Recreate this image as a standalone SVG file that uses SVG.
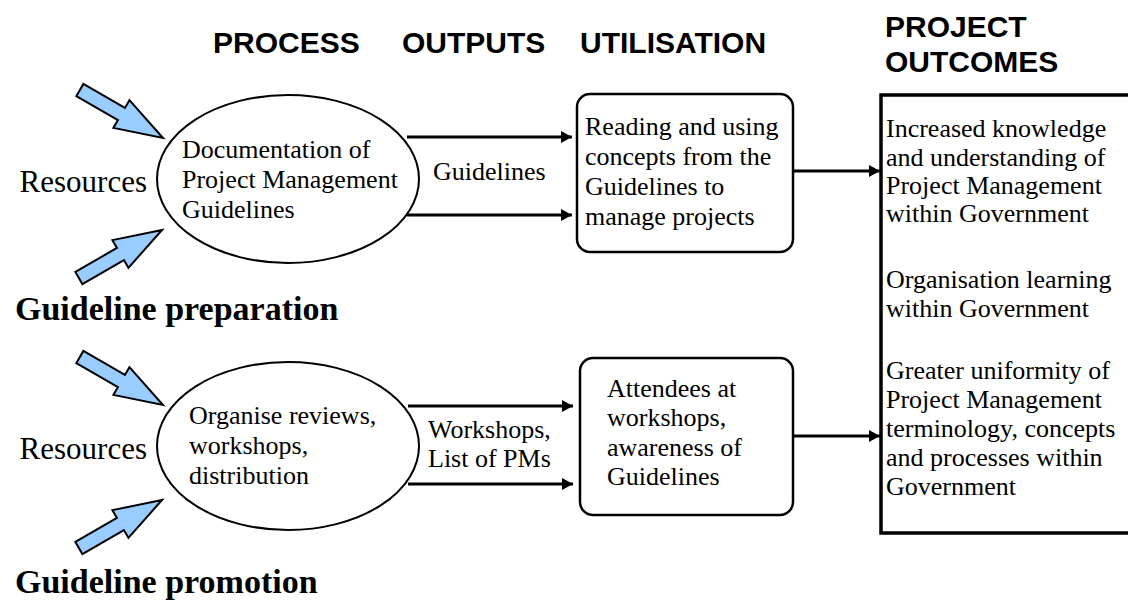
<svg xmlns="http://www.w3.org/2000/svg" width="1128" height="610" viewBox="0 0 1128 610">
  <defs>
    <style>
      .head { font-family: "Liberation Sans", Arial, sans-serif; font-weight: bold; font-size: 30px; fill: #000; }
      .txt { font-family: "Liberation Serif", "Times New Roman", serif; font-size: 26px; fill: #000; }
      .res { font-family: "Liberation Serif", "Times New Roman", serif; font-size: 31px; fill: #000; }
      .title { font-family: "Liberation Serif", "Times New Roman", serif; font-weight: bold; font-size: 34px; fill: #000; }
      .proc { fill: #fff; stroke: #000; stroke-width: 2; }
      .util { fill: #fff; stroke: #000; stroke-width: 2.5; }
      .outcome { fill: #fff; stroke: #000; stroke-width: 3.5; }
      .input { fill: #99ccff; stroke: #000; stroke-width: 2; stroke-linejoin: miter; }
      .flow { fill: none; stroke: #000; stroke-width: 3; marker-end: url(#tip); }
    </style>
    <marker id="tip" markerUnits="userSpaceOnUse" markerWidth="12" markerHeight="14" refX="11" refY="6" orient="auto">
      <path d="M0,0 L11,6 L0,12 Z" fill="#000"/>
    </marker>
    <!-- block arrow pointing along +x, tip at origin -->
    <polygon id="blockArrow" points="0,0 -48,-16 -48,-7 -96,-7 -96,7 -48,7 -48,16"/>
  </defs>

  <rect width="1128" height="610" fill="#fff"/>

  <!-- column headings -->
  <g id="headings">
    <text class="head" x="213" y="53">PROCESS</text>
    <text class="head" x="402" y="53">OUTPUTS</text>
    <text class="head" x="580" y="53">UTILISATION</text>
    <text class="head" x="885" y="37">PROJECT</text>
    <text class="head" x="885" y="72">OUTCOMES</text>
  </g>

  <!-- connectors -->
  <g id="connectors">
    <line class="flow" x1="407" y1="137" x2="572" y2="137"/>
    <line class="flow" x1="407" y1="215" x2="572" y2="215"/>
    <line class="flow" x1="408" y1="406" x2="573" y2="406"/>
    <line class="flow" x1="408" y1="484" x2="573" y2="484"/>
    <line class="flow" x1="793" y1="171" x2="880" y2="171"/>
    <line class="flow" x1="793" y1="436" x2="880" y2="436"/>
  </g>

  <!-- resource inputs, preparation row -->
  <g id="inputs-preparation">
    <use href="#blockArrow" class="input" transform="translate(163,138) rotate(30)"/>
    <use href="#blockArrow" class="input" transform="translate(162,230) rotate(-30)"/>
    <text class="res" x="147" y="192" text-anchor="end">Resources</text>
  </g>

  <g id="process-preparation">
    <ellipse class="proc" cx="288" cy="179" rx="131" ry="84"/>
    <text class="txt" x="182" y="158">Documentation of</text>
    <text class="txt" x="182" y="188">Project Management</text>
    <text class="txt" x="182" y="218">Guidelines</text>
  </g>

  <g id="output-preparation">
    <text class="txt" x="433" y="180">Guidelines</text>
  </g>

  <g id="utilisation-preparation">
    <rect class="util" x="577" y="94" width="216" height="158" rx="13"/>
    <text class="txt" x="585" y="135">Reading and using</text>
    <text class="txt" x="585" y="165">concepts from the</text>
    <text class="txt" x="585" y="195">Guidelines to</text>
    <text class="txt" x="585" y="225">manage projects</text>
  </g>

  <g id="label-preparation">
    <text class="title" x="15" y="320">Guideline preparation</text>
  </g>

  <!-- resource inputs, promotion row -->
  <g id="inputs-promotion">
    <use href="#blockArrow" class="input" transform="translate(163,405) rotate(30)"/>
    <use href="#blockArrow" class="input" transform="translate(162,500) rotate(-30)"/>
    <text class="res" x="147" y="459" text-anchor="end">Resources</text>
  </g>

  <g id="process-promotion">
    <ellipse class="proc" cx="288" cy="446" rx="131" ry="84"/>
    <text class="txt" x="189" y="424">Organise reviews,</text>
    <text class="txt" x="189" y="454">workshops,</text>
    <text class="txt" x="189" y="484">distribution</text>
  </g>

  <g id="output-promotion">
    <text class="txt" x="428" y="438">Workshops,</text>
    <text class="txt" x="428" y="467">List of PMs</text>
  </g>

  <g id="utilisation-promotion">
    <rect class="util" x="580" y="358" width="213" height="157" rx="13"/>
    <text class="txt" x="607" y="397">Attendees at</text>
    <text class="txt" x="607" y="426">workshops,</text>
    <text class="txt" x="607" y="456">awareness of</text>
    <text class="txt" x="607" y="485">Guidelines</text>
  </g>

  <g id="label-promotion">
    <text class="title" x="15" y="593">Guideline promotion</text>
  </g>

  <!-- outcomes panel, open to the right edge -->
  <g id="outcomes">
    <rect class="outcome" x="881" y="95" width="260" height="438"/>
    <text class="txt" x="886" y="137">Increased knowledge</text>
    <text class="txt" x="886" y="166">and understanding of</text>
    <text class="txt" x="886" y="194">Project Management</text>
    <text class="txt" x="886" y="222">within Government</text>
    <text class="txt" x="886" y="288">Organisation learning</text>
    <text class="txt" x="886" y="317">within Government</text>
    <text class="txt" x="886" y="379">Greater uniformity of</text>
    <text class="txt" x="886" y="408">Project Management</text>
    <text class="txt" x="886" y="437">terminology, concepts</text>
    <text class="txt" x="886" y="466">and processes within</text>
    <text class="txt" x="886" y="495">Government</text>
  </g>
</svg>
